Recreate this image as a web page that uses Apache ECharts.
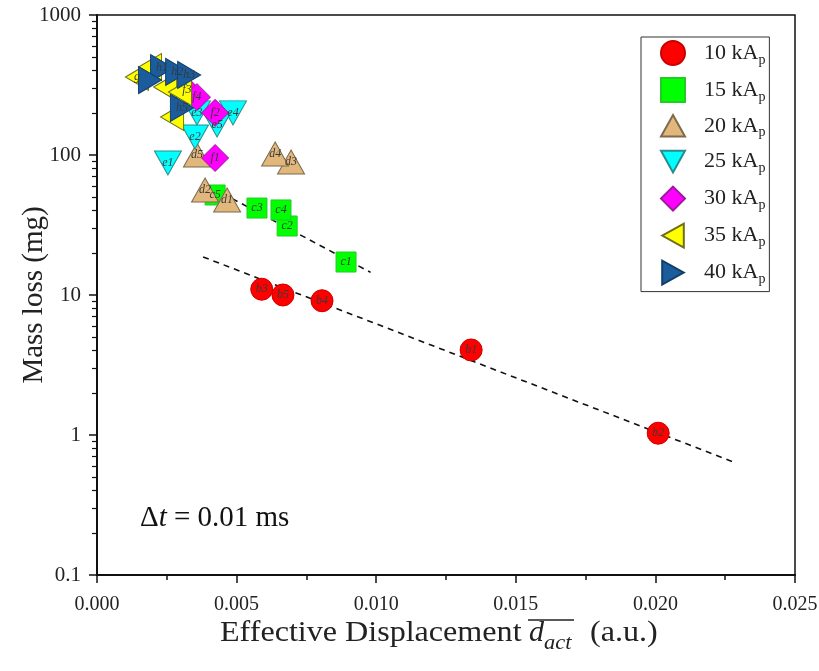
<!DOCTYPE html>
<html>
<head>
<meta charset="utf-8">
<script src="https://cdn.jsdelivr.net/npm/echarts@6/dist/echarts.min.js"></script>
<style>
  html, body { margin: 0; padding: 0; background: #fff; }
  #chart { width: 819px; height: 671px; }
</style>
</head>
<body>
<div id="chart"></div>
<script>
// Peak current groups
const groupNames = ['10 kA', '15 kA', '20 kA', '25 kA', '30 kA', '35 kA', '40 kA'];

// Effective displacement (a.u.) / mass loss (mg) / sample tags per group
const disp10 = [0.0059, 0.00666, 0.00806, 0.0134, 0.0201];
const mass10 = [11.0, 10.0, 9.1, 4.05, 1.03];
const tags10 = ['b3', 'b5', 'b4', 'b1', 'b2'];

const disp15 = [0.00892, 0.00681, 0.00573, 0.00659, 0.00423];
const mass15 = [17.2, 31.1, 41.8, 40.5, 51.8];
const tags15 = ['c1', 'c2', 'c3', 'c4', 'c5'];

const disp20 = [0.00466, 0.00387, 0.00695, 0.00638, 0.00358];
const mass20 = [47.7, 56.2, 89.1, 101.6, 100];
const tags20 = ['d1', 'd2', 'd3', 'd4', 'd5'];

const disp25 = [0.00254, 0.00351, 0.00358, 0.00487, 0.0043];
const mass25 = [87.7, 134.5, 200, 200, 164];
const tags25 = ['e1', 'e2', 'e3', 'e4', 'e5'];

const disp30 = [0.00423, 0.00423, 0.00322, 0.00358];
const mass30 = [95.2, 200, 291, 259];
const tags30 = ['f1', 'f2', 'f3', 'f4'];

const disp35 = [0.00143, 0.0019, 0.00244, 0.00297, 0.00269];
const mass35 = [361, 425, 306, 282, 187];
const tags35 = ['g', '', '', '', ''];

const disp40 = [0.00233, 0.00287, 0.0033, 0.0019, 0.00304];
const mass40 = [418, 392, 373, 343, 217];
const tags40 = ['h1', 'h2', 'h3', '', 'h5'];

// Dashed trend lines (end points)
const trendUpperX = [0.0038, 0.0098];
const trendUpperY = [63, 14.5];
const trendLowerX = [0.0038, 0.0229];
const trendLowerY = [18.7, 0.63];

// Axis ticks
const xTickValues = [0.000, 0.005, 0.010, 0.015, 0.020, 0.025];
const yTickValues = [0.1, 1, 10, 100, 1000];

const serif = '"Liberation Serif", "DejaVu Serif", serif';

function pts(xs, ys, tags) {
  return xs.map((x, i) => ({ value: [x, ys[i]], name: tags ? tags[i] : '' }));
}

const styles = [
  { symbol: 'circle', size: 22, color: '#ff0000', border: '#c80000' },
  { symbol: 'rect', size: 20, color: '#00ff00', border: '#22cc22' },
  { symbol: 'path://M5,0 L10,9 L0,9 Z', size: [27, 24], color: '#e2b77c', border: '#7d6a4c' },
  { symbol: 'path://M0,0 L10,0 L5,9 Z', size: [27, 24], color: '#00ffff', border: '#2c8c8c' },
  { symbol: 'diamond', size: 27, color: '#ff00ff', border: '#9a1a9a' },
  { symbol: 'path://M0,5 L9,0 L9,10 Z', size: [23, 27], color: '#ffff00', border: '#6e6e1a' },
  { symbol: 'path://M9,5 L0,0 L0,10 Z', size: [23, 27], color: '#1b5c9c', border: '#123e6a' }
];

const groups = [
  [disp10, mass10, tags10], [disp15, mass15, tags15], [disp20, mass20, tags20],
  [disp25, mass25, tags25], [disp30, mass30, tags30], [disp35, mass35, tags35],
  [disp40, mass40, tags40]
];

const scatterSeries = groups.map((g, i) => ({
  name: groupNames[i],
  type: 'scatter',
  z: 3,
  symbol: styles[i].symbol,
  symbolSize: styles[i].size,
  itemStyle: { color: styles[i].color, borderColor: styles[i].border, borderWidth: 1, opacity: 1 },
  label: {
    show: true,
    position: 'inside',
    formatter: p => p.name,
    fontFamily: serif,
    fontStyle: 'italic',
    fontSize: 12,
    color: '#3a3a3a'
  },
  emphasis: { disabled: true },
  data: pts(g[0], g[1], g[2])
}));

const trendSeries = [[trendUpperX, trendUpperY], [trendLowerX, trendLowerY]].map(t => ({
  type: 'line',
  z: 2,
  symbol: 'none',
  silent: true,
  lineStyle: { color: '#111', width: 1.6, type: [6, 5] },
  data: t[0].map((x, i) => [x, t[1][i]])
}));

const chart = echarts.init(document.getElementById('chart'), null, { renderer: 'canvas' });

chart.setOption({
  animation: false,
  backgroundColor: '#fff',
  grid: {
    left: 97, right: 24, top: 15, bottom: 96,
    containLabel: false,
    outerBoundsMode: 'none',
    show: true, borderColor: '#111', borderWidth: 1.5, backgroundColor: 'transparent'
  },
  xAxis: {
    type: 'value',
    min: 0, max: 0.025, interval: 0.005,
    axisLine: { show: true, lineStyle: { color: '#111', width: 2 } },
    axisTick: { show: true, length: 8, lineStyle: { color: '#111', width: 1.5 } },
    minorTick: { show: true, splitNumber: 2, length: 5, lineStyle: { color: '#111', width: 1.5 } },
    splitLine: { show: false },
    axisLabel: {
      margin: 20, fontFamily: serif, fontSize: 20, color: '#222',
      formatter: v => (xTickValues.some(t => Math.abs(t - v) < 1e-9) ? v.toFixed(3) : '')
    }
  },
  yAxis: {
    type: 'log',
    logBase: 10,
    min: yTickValues[0], max: yTickValues[yTickValues.length - 1],
    axisLine: { show: true, lineStyle: { color: '#111', width: 2 } },
    axisTick: { show: true, length: 8, lineStyle: { color: '#111', width: 1.5 } },
    minorTick: { show: true, splitNumber: 9, length: 5, lineStyle: { color: '#111', width: 1.2 } },
    splitLine: { show: false },
    axisLabel: {
      margin: 16, fontFamily: serif, fontSize: 21, color: '#222',
      formatter: v => String(v)
    },
    name: 'Mass loss (mg)',
    nameLocation: 'middle',
    nameGap: 48,
    nameMoveOverlap: false,
    nameTextStyle: { fontFamily: serif, fontSize: 29, color: '#222' }
  },
  legend: {
    orient: 'vertical',
    left: 641, top: 37,
    padding: [3, 4, 5, 19],
    itemWidth: 24, itemHeight: 24, itemGap: 10,
    borderColor: '#333', borderWidth: 1,
    backgroundColor: '#fff',
    data: groupNames,
    selectedMode: false,
    formatter: name => '{t|' + name + '}{s|p}',
    textStyle: {
      fontFamily: serif, fontSize: 22, color: '#222',
      rich: {
        t: { fontFamily: serif, fontSize: 22, color: '#222', padding: [0, 0, 0, 14] },
        s: { fontFamily: serif, fontSize: 14, color: '#222', padding: [14, 0, 0, 0] }
      }
    }
  },
  graphic: [
    {
      type: 'text', left: 140, top: 504,
      style: {
        text: '{a|Δ}{i|t}{a| = 0.01 ms}',
        rich: {
          a: { fontFamily: serif, fontSize: 29, fill: '#111' },
          i: { fontFamily: serif, fontSize: 29, fontStyle: 'italic', fill: '#111' }
        }
      }
    },
    {
      type: 'text', x: 220, y: 618, scaleX: 1.07,
      style: { text: 'Effective Displacement', font: '30px ' + serif, fill: '#222' }
    },
    {
      type: 'text', x: 529, y: 618,
      style: { text: 'd', font: 'italic 30px ' + serif, fill: '#222' }
    },
    {
      type: 'text', x: 544, y: 633, scaleX: 1.07,
      style: { text: 'act', font: 'italic 21px ' + serif, fill: '#222' }
    },
    {
      type: 'line',
      shape: { x1: 528, y1: 620, x2: 574, y2: 620 },
      style: { stroke: '#222', lineWidth: 1.4 }
    },
    {
      type: 'text', x: 590, y: 618, scaleX: 1.07,
      style: { text: '(a.u.)', font: '30px ' + serif, fill: '#222' }
    }
  ],
  series: trendSeries.concat(scatterSeries)
});
</script>
</body>
</html>
